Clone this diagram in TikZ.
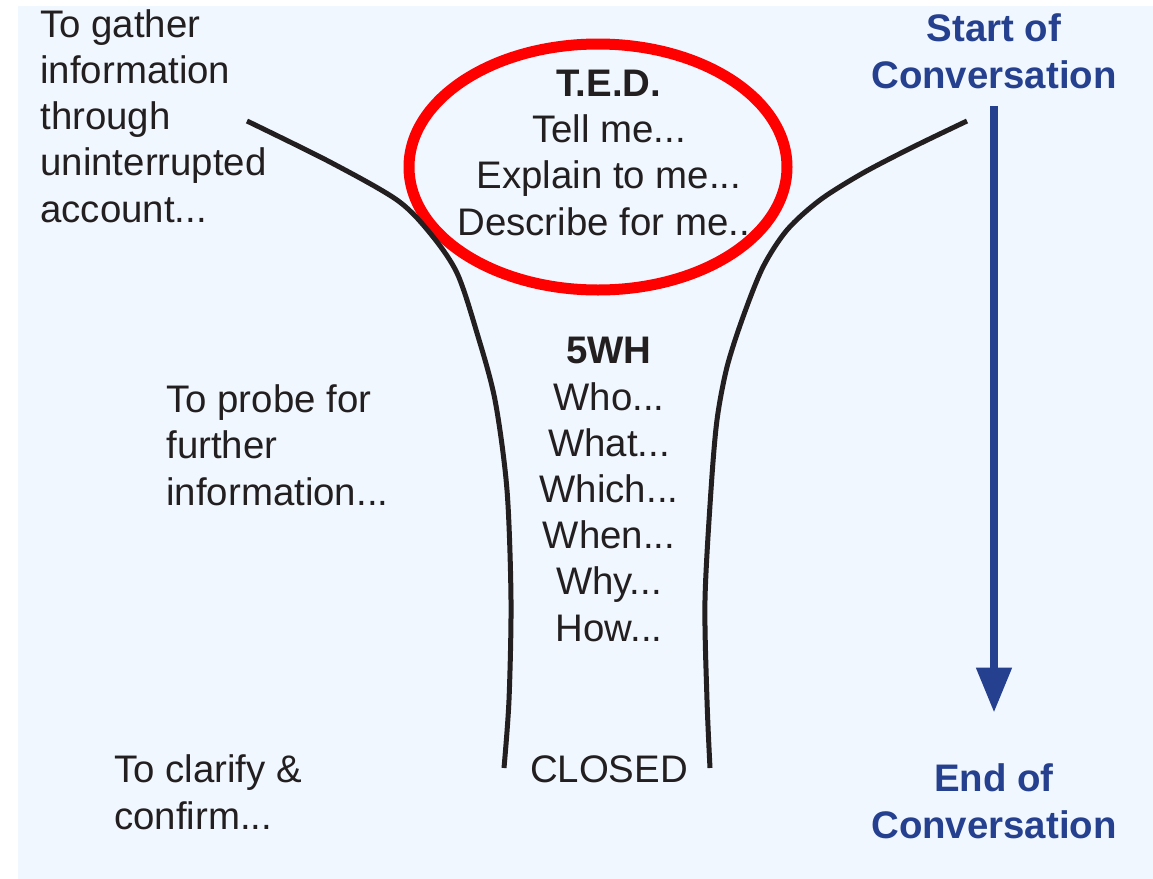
\documentclass[tikz,border=0pt]{standalone}
\usepackage{fontspec}
\setmainfont{Liberation Sans}
\usepackage{tikz}
\usetikzlibrary{arrows.meta, positioning, shapes.geometric}
\usepackage{xcolor}
\definecolor{panelbg}{HTML}{F0F7FE}
\definecolor{inkdark}{HTML}{231F20}
\definecolor{convblue}{HTML}{25408F}
\definecolor{tedred}{HTML}{FF0000}

\begin{document}
\begin{tikzpicture}[
  x=0.5pt, y=-0.5pt,
  txt/.style={font=\fontsize{19.2}{23.1}\selectfont, text=inkdark, inner sep=0pt},
  lefttxt/.style={txt, align=left, anchor=base west},
  midtxt/.style={txt, align=center, anchor=base},
  convtxt/.style={txt, font=\fontsize{19.2}{23.1}\selectfont\bfseries, text=convblue, align=center, anchor=base},
  funnel/.style={line width=2.5pt, inkdark},
  >=Triangle
]
  \useasboundingbox (0,0) rectangle (1153,879);
  \fill[panelbg] (17.5,6) rectangle (1153,879);

  % --- purpose of each stage (placed by their last line) ---
  \node[lefttxt] (gather) at (40,222)
    {To gather\\information\\through\\uninterrupted\\account...};
  \node[lefttxt] (probe) at (166,505) {To probe for\\further\\information...};
  \node[lefttxt] (clarify) at (114,829) {To clarify \&\\confirm...};

  % --- question types inside the funnel ---
  \node[midtxt] (ted) at (609,235)
    {\textbf{T.E.D.}\\Tell me...\\Explain to me...\\Describe for me...};
  \node[midtxt] (fivewh) at (609,641)
    {\textbf{5WH}\\Who...\\What...\\Which...\\When...\\Why...\\How...};
  \node[midtxt] (closed) at (609,782) {CLOSED};

  % ring round the open questions
  \node[ellipse, draw=tedred, line width=5.5pt, inner sep=0pt,
    minimum width=189pt, minimum height=123pt] (tedring) at (598,167) {};

  % Funnel walls
  \draw[funnel] plot[smooth] coordinates {(247,121) (330,162) (397,200)
    (430,233) (457,273) (477,333) (495,400) (507,490) (511,600) (509,700)
    (504,768)};
  \draw[funnel] plot[smooth] coordinates {(967,121) (913,147) (863,173)
    (820,200) (787,230) (763,267) (743,317) (727,367) (717,420) (711,490)
    (705,600) (707,700) (710,768)};

  % --- time line ---
  \node[convtxt] (start) at (994,88) {Start of\\Conversation};
  \node[convtxt] (finish) at (994,838) {End of\\Conversation};
  \draw[convblue, line width=4pt, -{Triangle[length=22.5pt, width=17pt]}]
    ([yshift=-8.5pt]start.south) -- ([yshift=25.5pt]finish.north);
\end{tikzpicture}
\end{document}
